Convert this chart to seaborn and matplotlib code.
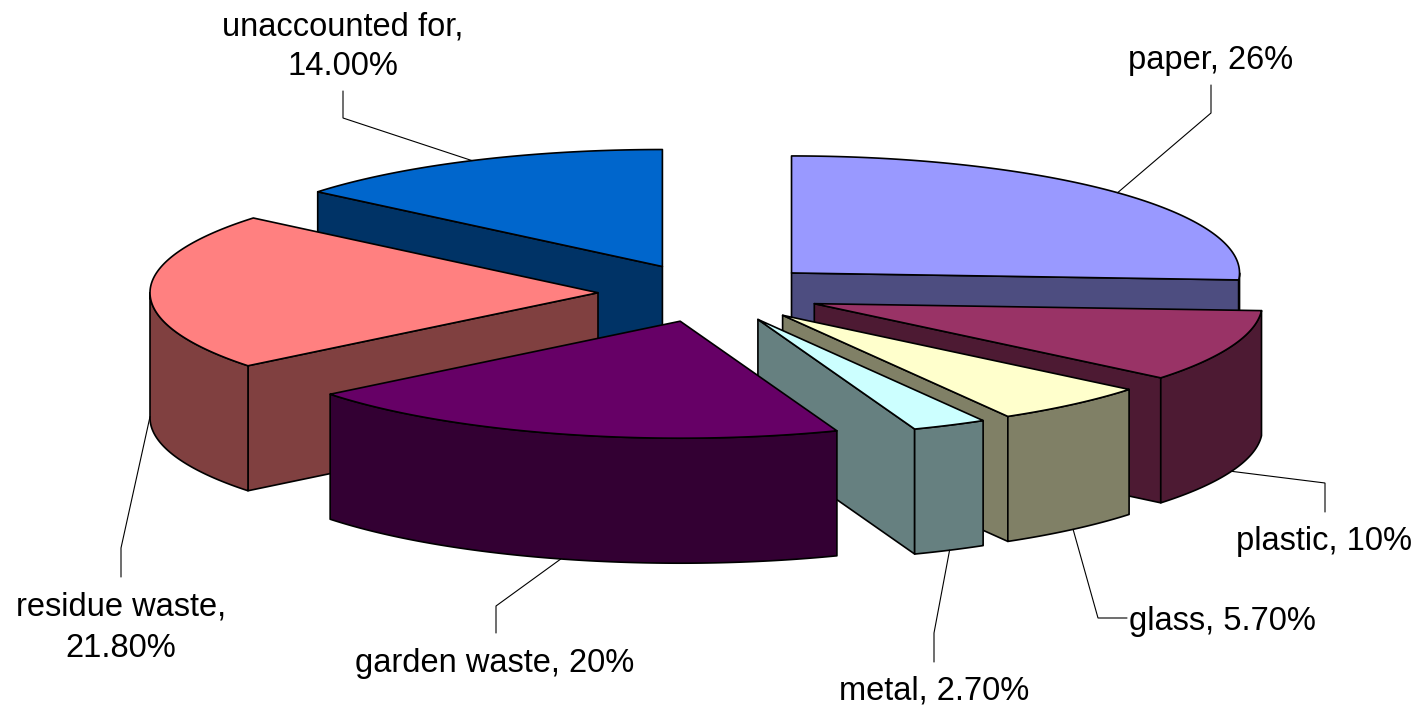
import numpy as np
import matplotlib
matplotlib.use("Agg")
import matplotlib.pyplot as plt
import matplotlib.colors as mcolors
from matplotlib.patches import Polygon
import seaborn as sns

# ---------------- data ----------------
categories = ["paper", "plastic", "glass", "metal", "garden waste",
              "residue waste", "unaccounted for"]
values = [26, 10, 5.7, 2.7, 20, 21.8, 14]
value_labels = ["26%", "10%", "5.70%", "2.70%", "20%", "21.80%", "14.00%"]
top_colors = ["#9999FF", "#993366", "#FFFFCC", "#CCFFFF", "#660066",
              "#FF8080", "#0066CC"]

# ---------------- style / layout ----------------
sns.set_theme(style="white")
plt.rcParams['font.family'] = ['Liberation Sans', 'DejaVu Sans']

W, Hpx = 1425, 710
fig = plt.figure(figsize=(W / 100, Hpx / 100), dpi=100)
ax = fig.add_axes([0, 0, 1, 1])
ax.set_xlim(0, W)
ax.set_ylim(Hpx, 0)
ax.axis('off')

CX, CY = 710, 293          # pie centre (pixels)
RX, RY, DEPTH = 448, 117, 125
EXPLODE = 0.25
EDGE_LW = 1.2
FONT_SIZE = 23.5

# label layout: (lines, x, baselines, ha, elbow, end)
label_layout = {
    "paper": (1, 1211, [69], "center", (1211, 113), (1211, 85)),
    "plastic": (1, 1324, [550], "center", (1325, 483), (1325, 512)),
    "glass": (1, 1129, [630], "left", (1098, 618), (1127, 618)),
    "metal": (1, 934, [700], "center", (934, 633), (934, 662)),
    "garden waste": (1, 495, [672], "center", (496, 606), (496, 633)),
    "residue waste": (2, 121, [615, 657], "center", (121, 548), (121, 577)),
    "unaccounted for": (2, 343, [35, 75], "center", (343, 118), (343, 91)),
}

# ---------------- geometry ----------------
fr = np.array(values, dtype=float) / np.sum(values)
ends = np.cumsum(fr) * 2 * np.pi
starts = ends - fr * 2 * np.pi
mids = (starts + ends) / 2


def shade(c, k=0.5):
    r, g, b = mcolors.to_rgb(c)
    return (r * k, g * k, b * k)


def apex(i):
    m = mids[i]
    return CX + EXPLODE * RX * np.sin(m), CY - EXPLODE * RY * np.cos(m)


def rim(i, t, dz=0.0):
    x0, y0 = apex(i)
    return x0 + RX * np.sin(t), y0 - RY * np.cos(t) + dz


order = np.argsort(-np.cos(mids))  # back slices first
poly_kw = dict(edgecolor="black", linewidth=EDGE_LW, joinstyle="round")

for i in order:
    a1, a2 = starts[i], ends[i]
    x0, y0 = apex(i)
    top_c = top_colors[i]
    side_c = shade(top_c)
    # radial walls
    if np.sin(a1) < -1e-6:
        px, py = rim(i, a1)
        ax.add_patch(Polygon([(x0, y0), (px, py), (px, py + DEPTH), (x0, y0 + DEPTH)],
                             facecolor=side_c, **poly_kw))
    if np.sin(a2) > 1e-6:
        px, py = rim(i, a2)
        ax.add_patch(Polygon([(x0, y0), (px, py), (px, py + DEPTH), (x0, y0 + DEPTH)],
                             facecolor=side_c, **poly_kw))
    # outer curved wall (front half only)
    lo, hi = max(a1, np.pi / 2), min(a2, 3 * np.pi / 2)
    if hi > lo:
        t = np.linspace(lo, hi, 200)
        tx, ty = rim(i, t)
        pts = list(zip(tx, ty)) + list(zip(tx[::-1], ty[::-1] + DEPTH))
        ax.add_patch(Polygon(pts, facecolor=side_c, **poly_kw))
    # top face
    t = np.linspace(a1, a2, 300)
    tx, ty = rim(i, t)
    pts = [(x0, y0)] + list(zip(tx, ty))
    ax.add_patch(Polygon(pts, facecolor=top_c, **poly_kw))

# ---------------- labels & leader lines ----------------
for i, cat in enumerate(categories):
    nlines, lx, baselines, ha, elbow, endp = label_layout[cat]
    text = f"{cat}, {value_labels[i]}"
    lines = [f"{cat},", value_labels[i]] if nlines == 2 else [text]
    for s, by in zip(lines, baselines):
        ax.text(lx, by, s, ha=ha, va="baseline", fontsize=FONT_SIZE, color="black")
    dz = DEPTH if endp[1] > CY else 0.0
    axp, ayp = rim(i, mids[i], dz)
    ax.plot([axp, elbow[0], endp[0]], [ayp, elbow[1], endp[1]],
            color="black", linewidth=0.8, solid_joinstyle="miter")

fig.savefig("out.png", dpi=100, facecolor="white")
